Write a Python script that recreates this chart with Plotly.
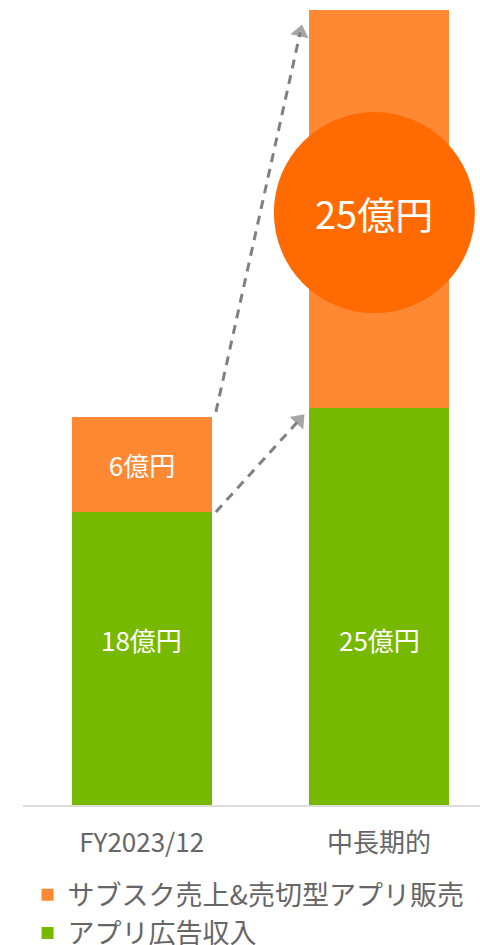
import plotly.graph_objects as go

categories = [0, 1]
tick_labels = ["FY2023/12", "中長期的"]
ad_revenue = [18.4, 25.0]
sub_revenue = [6.0, 25.0]
ad_labels = ["18億円", "25億円"]
sub_labels = ["6億円", ""]
series_names = ["アプリ広告収入", "サブスク売上&売切型アプリ販売"]
big_label = "25億円"

GREEN = "#77B800"
ORANGE = "#FF8833"
CIRCLE = "#FF6B00"
GRAY = "#666666"
FONT = "Noto Sans CJK JP"

fig = go.Figure()
fig.add_trace(go.Bar(
    x=categories, y=ad_revenue, name=series_names[0],
    marker=dict(color=GREEN, line=dict(width=0)), width=0.589,
))
fig.add_trace(go.Bar(
    x=categories, y=sub_revenue, name=series_names[1],
    marker=dict(color=ORANGE, line=dict(width=0)), width=0.589,
    text=sub_labels, textposition="inside", insidetextanchor="middle",
    textfont=dict(color="white", size=26, family=FONT),
))

# dashed arrows
arrows = [
    ([0.3125, 0.668], [24.72, 48.6]),
    ([0.3125, 0.663], [18.43, 24.2]),
]
for xs, ys in arrows:
    fig.add_trace(go.Scatter(
        x=xs, y=ys, mode="lines+markers", showlegend=False, hoverinfo="skip",
        line=dict(color="#808080", width=3, dash="9px,7px"),
        marker=dict(symbol="triangle-up", size=[0, 16], color="#808080",
                    angleref="previous", line=dict(width=0)),
    ))

# labels in green segments
for c, lab in zip(categories, ad_labels):
    fig.add_annotation(x=c, y=10.44, text=lab, showarrow=False,
                       font=dict(color="white", size=26, family=FONT))

# big circle
fig.add_shape(type="circle", xref="x", yref="y", xsizemode="pixel", ysizemode="pixel",
              xanchor=0.98, yanchor=37.26, x0=-100.5, x1=100.5, y0=-100.5, y1=100.5,
              fillcolor=CIRCLE, line=dict(width=0), layer="above")
fig.add_annotation(x=0.98, y=37.26, text=big_label, showarrow=False,
                   font=dict(color="white", size=38, family=FONT))

fig.update_layout(
    width=480, height=945,
    margin=dict(l=23, r=0, t=10, b=140, autoexpand=False),
    barmode="stack", bargap=0,
    plot_bgcolor="white", paper_bgcolor="white",
    font=dict(family=FONT, color=GRAY, size=26),
    showlegend=True,
    legend=dict(orientation="v", traceorder="reversed", x=0.01, xanchor="left",
                yref="container", y=0.0785, yanchor="top",
                font=dict(size=27, color=GRAY, family=FONT),
                itemwidth=30, bgcolor="rgba(0,0,0,0)"),
    xaxis=dict(range=[-0.5, 1.425], tickmode="array", tickvals=categories,
               ticktext=tick_labels, showgrid=False, zeroline=False,
               showline=True, linecolor="#DDDDDD", linewidth=2, ticks="",
               ticklabelstandoff=14, tickfont=dict(size=26, color=GRAY, family=FONT)),
    yaxis=dict(range=[0, 50], visible=False, showgrid=False, zeroline=False),
)

fig.write_html("out.html")
